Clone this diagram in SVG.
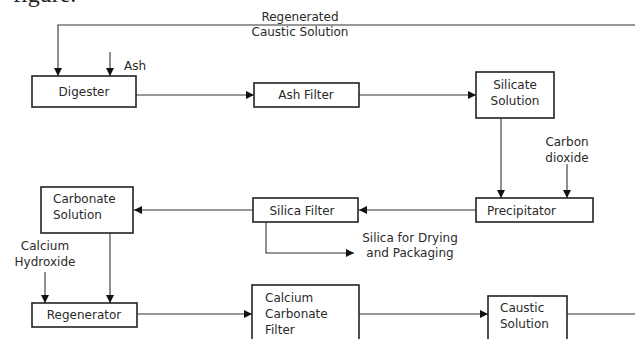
<svg xmlns="http://www.w3.org/2000/svg" width="635" height="339" viewBox="0 0 635 339">
<defs>
<marker id="ah" viewBox="0 0 10 10" refX="10" refY="5" markerWidth="8" markerHeight="8" markerUnits="userSpaceOnUse" orient="auto">
<path d="M0,0 L10,5 L0,10 z" fill="#111"/>
</marker>
<style>
.box{fill:#fff;stroke:#222;stroke-width:1.6}
.t{font-family:"DejaVu Sans",Verdana,sans-serif;font-size:12px;fill:#2a2a2a}
.m{text-anchor:middle}
.c{fill:none;stroke:#333;stroke-width:1.1}
.a{marker-end:url(#ah)}
</style>
</defs>
<rect width="635" height="339" fill="#fff"/>
<text x="13" y="2" font-family="Liberation Serif,serif" font-size="24" fill="#222">figure.</text>
<g id="connectors">
<path class="c a" d="M635,25 H58 V76"/>
<path class="c a" d="M110,52 V76"/>
<path class="c a" d="M136,95 H254"/>
<path class="c a" d="M359,95 H476"/>
<path class="c a" d="M501,118 V198"/>
<path class="c a" d="M567,164 V198"/>
<path class="c a" d="M476,210 H359"/>
<path class="c a" d="M253,210 H134"/>
<path class="c a" d="M266,222 V253 H354"/>
<path class="c a" d="M110,233 V303"/>
<path class="c a" d="M45,272 V303"/>
<path class="c a" d="M137,314 H252"/>
<path class="c a" d="M359,314 H488"/>
<path class="c" d="M567,314 H635"/>
</g>
<g id="regenerated-label">
<text class="t m" x="300" y="21">Regenerated</text>
<text class="t m" x="300" y="36">Caustic Solution</text>
</g>
<g id="ash-label"><text class="t" x="124" y="70">Ash</text></g>
<g id="digester">
<rect class="box" x="32" y="76" width="104" height="31"/>
<text class="t m" x="84" y="96">Digester</text>
</g>
<g id="ash-filter">
<rect class="box" x="254" y="83" width="105" height="24"/>
<text class="t m" x="306" y="99">Ash Filter</text>
</g>
<g id="silicate-solution">
<rect class="box" x="476" y="72" width="78" height="46"/>
<text class="t m" x="515" y="89">Silicate</text>
<text class="t m" x="515" y="105">Solution</text>
</g>
<g id="carbon-dioxide-label">
<text class="t m" x="567" y="146">Carbon</text>
<text class="t m" x="567" y="162">dioxide</text>
</g>
<g id="precipitator">
<rect class="box" x="476" y="198" width="117" height="24"/>
<text class="t" x="487" y="215">Precipitator</text>
</g>
<g id="silica-filter">
<rect class="box" x="253" y="198" width="105" height="24"/>
<text class="t m" x="302" y="215">Silica Filter</text>
</g>
<g id="silica-drying-label">
<text class="t m" x="410" y="242">Silica for Drying</text>
<text class="t m" x="410" y="257">and Packaging</text>
</g>
<g id="carbonate-solution">
<rect class="box" x="41" y="187" width="92" height="46"/>
<text class="t" x="53" y="203">Carbonate</text>
<text class="t" x="53" y="219">Solution</text>
</g>
<g id="calcium-hydroxide-label">
<text class="t m" x="45" y="250">Calcium</text>
<text class="t m" x="45" y="266">Hydroxide</text>
</g>
<g id="regenerator">
<rect class="box" x="32" y="303" width="105" height="24"/>
<text class="t m" x="84" y="319">Regenerator</text>
</g>
<g id="calcium-carbonate-filter">
<rect class="box" x="252" y="285" width="107" height="60"/>
<text class="t" x="265" y="302">Calcium</text>
<text class="t" x="265" y="318">Carbonate</text>
<text class="t" x="265" y="334">Filter</text>
</g>
<g id="caustic-solution">
<rect class="box" x="488" y="296" width="79" height="50"/>
<text class="t" x="500" y="312">Caustic</text>
<text class="t" x="500" y="328">Solution</text>
</g>
</svg>
